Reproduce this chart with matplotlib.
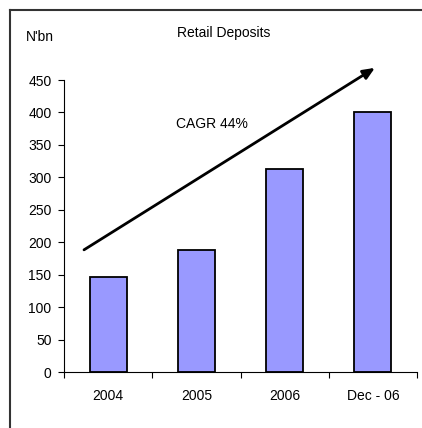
import matplotlib
matplotlib.use("Agg")
import matplotlib.pyplot as plt
from matplotlib.lines import Line2D

categories = ["2004", "2005", "2006", "Dec - 06"]
values = [146, 188, 313, 401]
yticks = [0, 50, 100, 150, 200, 250, 300, 350, 400, 450]
title = "Retail Deposits"
unit = "N'bn"
cagr_label = "CAGR 44%"

plt.rcParams['font.family'] = ['Liberation Sans', 'DejaVu Sans']
FS = 10

fig = plt.figure(figsize=(4.22, 4.28), dpi=100)
ax = fig.add_axes([64/422, 1-372/428, (417-64)/422, (372-80)/428])

x = list(range(len(categories)))
ax.bar(x, values, width=0.42, color="#9999FF", edgecolor="black", linewidth=1.3, zorder=2)

ax.set_xlim(-0.5, len(categories) - 0.5)
ax.set_ylim(0, 450)
ax.set_yticks(yticks)
ax.set_yticklabels([str(t) for t in yticks], fontsize=FS)
ax.set_xticks(x)
ax.set_xticklabels(categories, fontsize=FS)
ax.tick_params(axis='x', which='major', length=0, pad=12)
ax.set_xticks([i - 0.5 for i in range(len(categories) + 1)], minor=True)
ax.tick_params(axis='x', which='minor', length=4, direction='out', width=0.8)
ax.tick_params(axis='y', length=4, direction='out', width=0.8, pad=5)
for s in ['top', 'right']:
    ax.spines[s].set_visible(False)
for s in ['left', 'bottom']:
    ax.spines[s].set_linewidth(0.8)
    ax.spines[s].set_color('black')

ax.annotate("", xy=(3.05, 471), xytext=(-0.30, 186),
            arrowprops=dict(arrowstyle="-|>,head_length=0.7,head_width=0.3", color="black", lw=2),
            annotation_clip=False)
ax.text(1.18, 382, cagr_label, ha='center', va='center', fontsize=FS)

fig.text(224/422, 1-33/428, title, ha='center', va='center', fontsize=FS)
fig.text(40/422, 1-37/428, unit, ha='center', va='center', fontsize=FS)

fig.add_artist(Line2D([10/422, 421/422], [1-9.5/428, 1-9.5/428], transform=fig.transFigure, color='#333333', lw=1.5))
fig.add_artist(Line2D([10/422, 10/422], [1-9.5/428, 0], transform=fig.transFigure, color='#333333', lw=1.5))

fig.savefig("out.png", dpi=100)
